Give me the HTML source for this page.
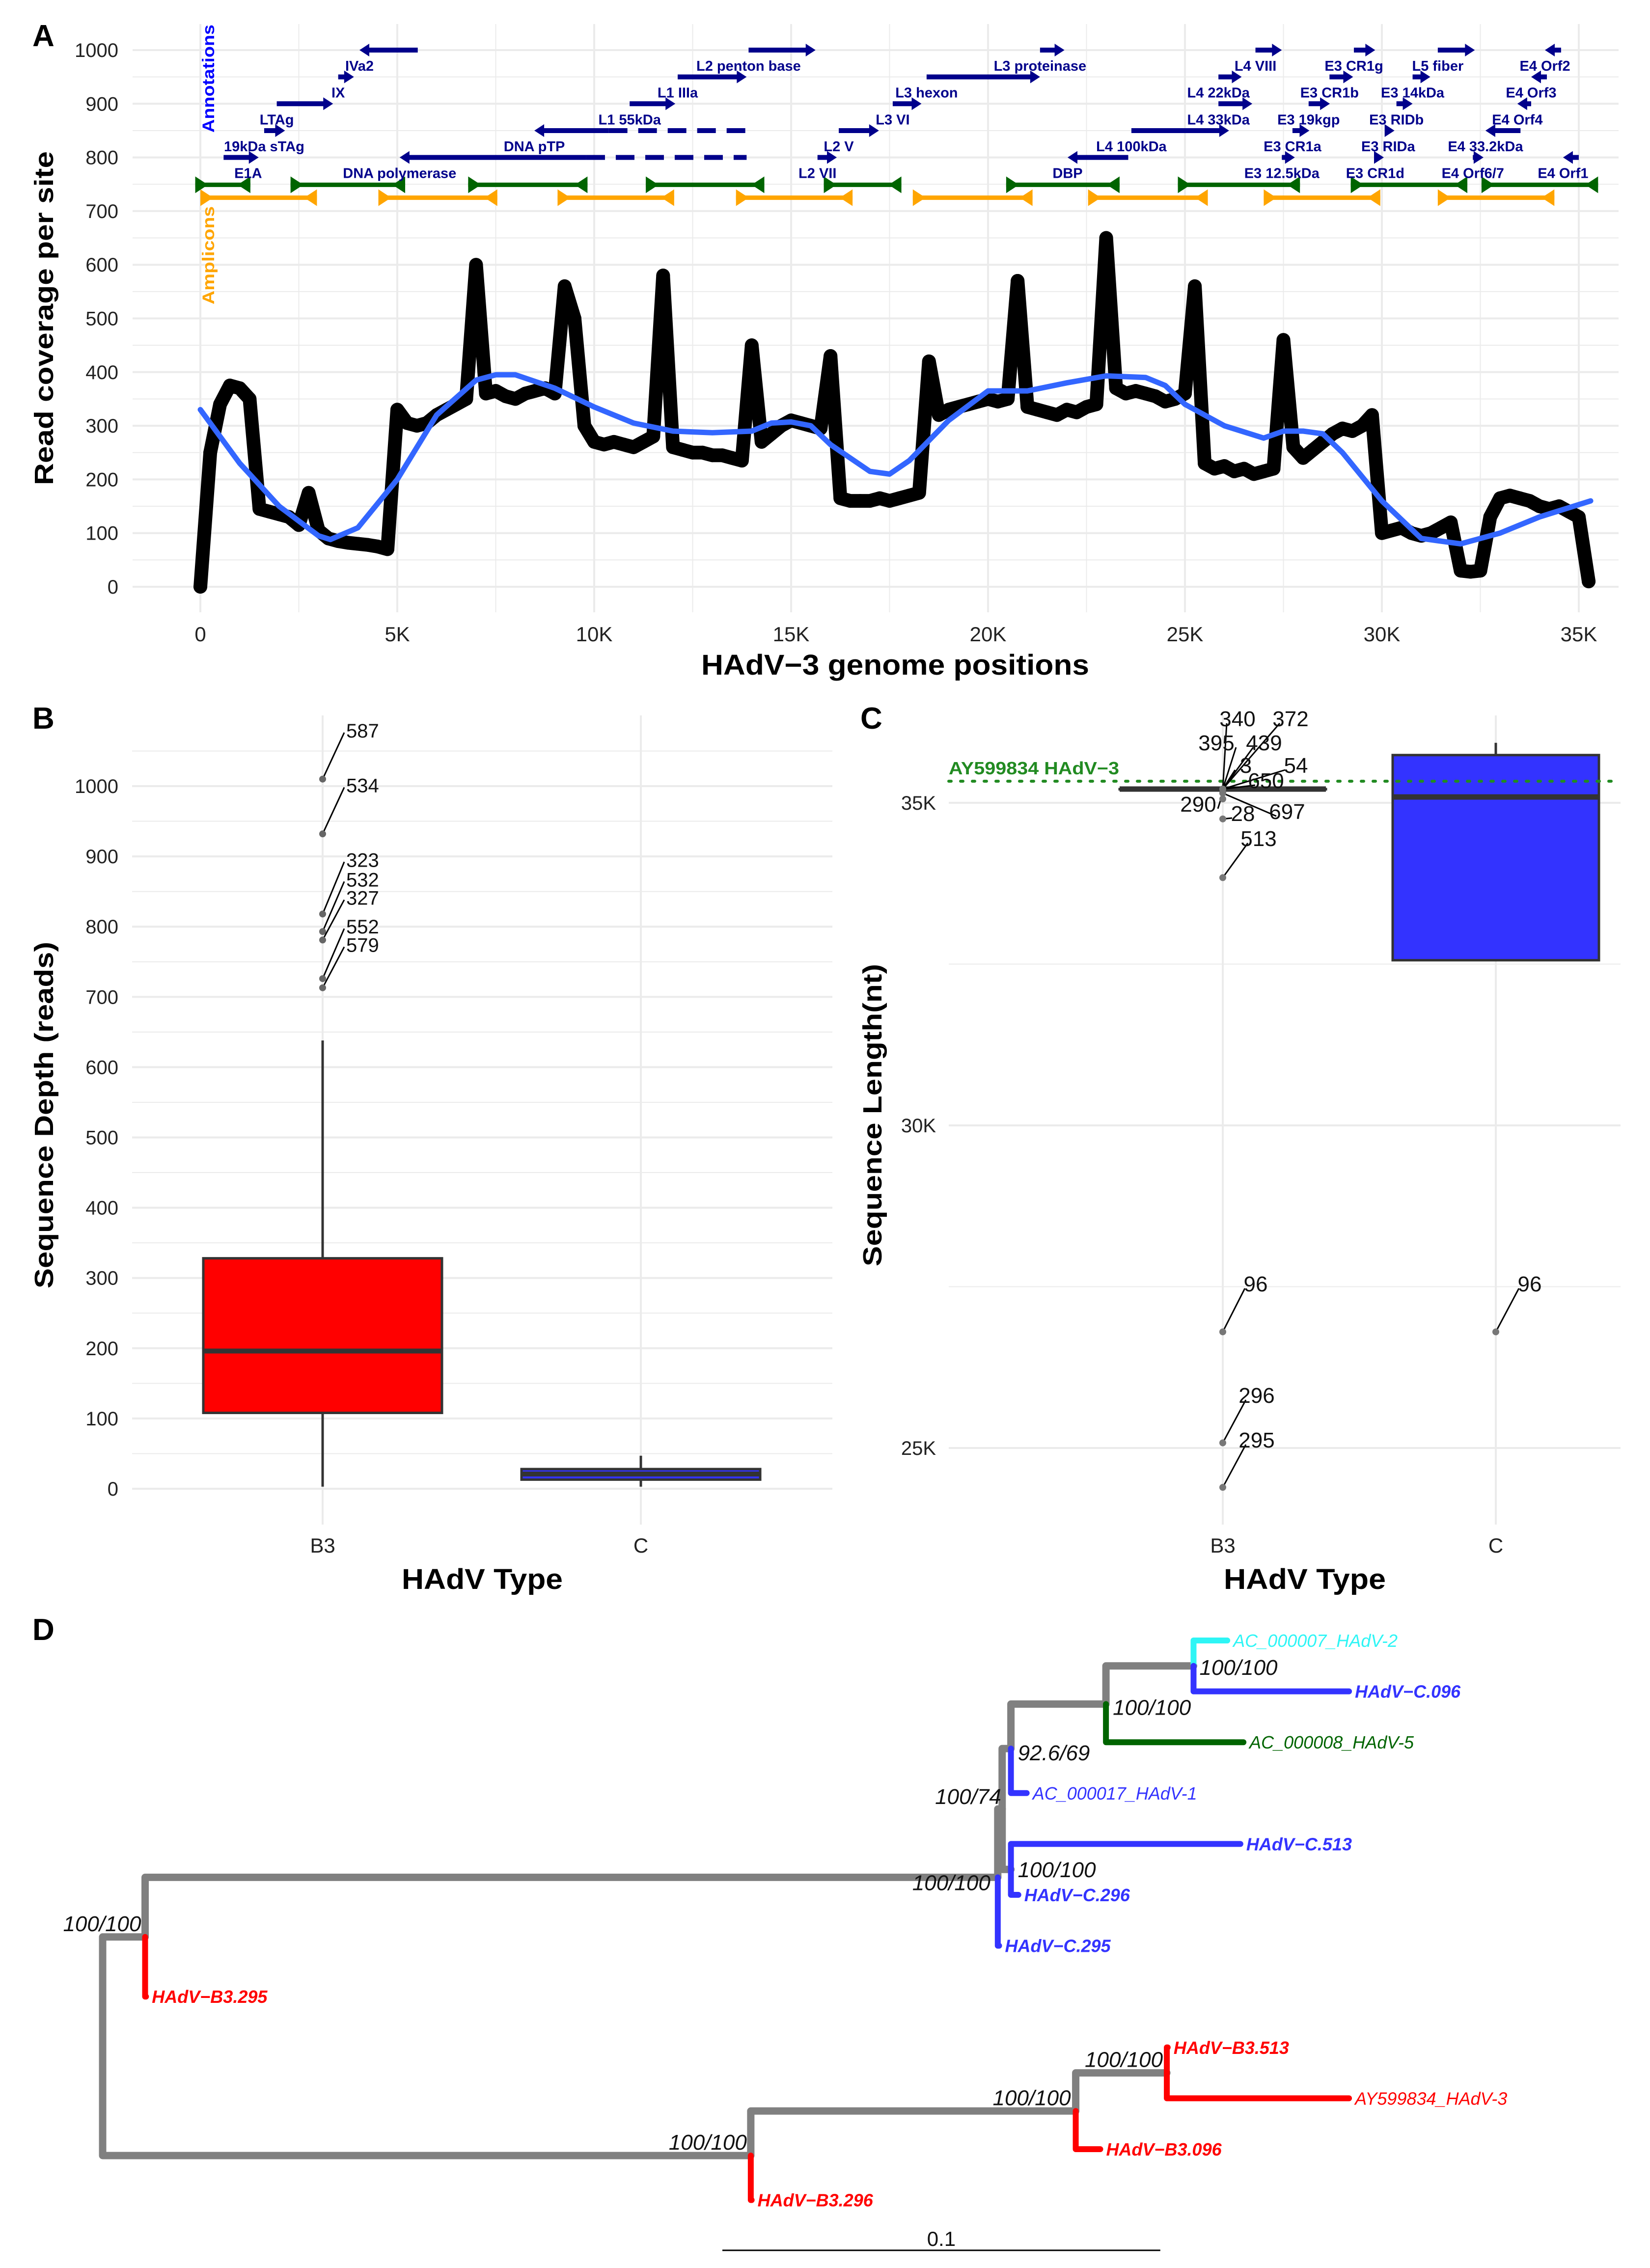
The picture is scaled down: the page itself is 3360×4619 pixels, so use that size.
<!DOCTYPE html>
<html><head><meta charset="utf-8">
<style>
html,body{margin:0;padding:0;background:#fff;}
svg{display:block;font-family:"Liberation Sans",sans-serif;}
</style></head>
<body>
<svg id="fig" xmlns="http://www.w3.org/2000/svg" width="3360" height="4619" viewBox="0 0 3360 4619">
<rect x="0" y="0" width="3360" height="4619" fill="#fff"/>
<g id="gA"></g>
<g id="gB"></g>
<g id="gC"></g>
<g id="gD"></g>
<text x="66" y="94" font-size="62" font-weight="bold">A</text>
<text x="66" y="1484" font-size="62" font-weight="bold">B</text>
<text x="1752" y="1484" font-size="62" font-weight="bold">C</text>
<text x="66" y="3340" font-size="62" font-weight="bold">D</text>
<text transform="translate(108,648) rotate(-90)" text-anchor="middle" font-size="54" font-weight="bold" textLength="680" lengthAdjust="spacingAndGlyphs">Read coverage per site</text>
<text x="1823" y="1374" text-anchor="middle" font-size="58" font-weight="bold" textLength="790" lengthAdjust="spacingAndGlyphs">HAdV−3 genome positions</text>
<text transform="translate(436,160) rotate(-90)" text-anchor="middle" font-size="34" font-weight="bold" fill="#0000FF" textLength="220" lengthAdjust="spacingAndGlyphs">Annotations</text>
<text transform="translate(436,520) rotate(-90)" text-anchor="middle" font-size="34" font-weight="bold" fill="#FFA500" textLength="200" lengthAdjust="spacingAndGlyphs">Amplicons</text>
<text transform="translate(108,2271) rotate(-90)" text-anchor="middle" font-size="54" font-weight="bold" textLength="706" lengthAdjust="spacingAndGlyphs">Sequence Depth (reads)</text>
<text x="982" y="3236" text-anchor="middle" font-size="58" font-weight="bold" textLength="328" lengthAdjust="spacingAndGlyphs">HAdV Type</text>
<text transform="translate(1795,2271) rotate(-90)" text-anchor="middle" font-size="54" font-weight="bold" textLength="616" lengthAdjust="spacingAndGlyphs">Sequence Length(nt)</text>
<text x="2657" y="3236" text-anchor="middle" font-size="58" font-weight="bold" textLength="330" lengthAdjust="spacingAndGlyphs">HAdV Type</text>
<text x="1932" y="1577" font-size="36" font-weight="bold" fill="#228B22" textLength="347" lengthAdjust="spacingAndGlyphs">AY599834 HAdV−3</text>
</svg>
<script>
// ---------- Panel A data ----------
const covStepK = 0.25;
const covValues = [0,250,340,375,370,350,145,140,135,130,115,175,105,90,85,82,80,78,75,70,
330,305,300,305,320,330,340,350,600,360,365,355,350,360,365,370,360,560,500,300,
270,265,270,265,260,270,280,580,260,255,250,250,245,245,240,235,450,270,285,300,
310,305,300,295,430,165,160,160,160,165,160,165,170,175,420,320,330,335,340,345,
350,345,350,570,335,330,325,320,330,325,335,340,650,370,360,365,360,355,345,350,
360,560,230,220,225,215,220,210,215,220,460,260,240,255,270,285,295,290,300,320,
100,105,110,100,95,100,110,120,30,28,30,130,165,170,165,160,150,145,150,140,130,10];
const smoothPosK = [0,1,2,3,3.3,4,5,6,7,7.5,8,9,10,11,12,13,14,14.5,15,15.5,16,17,17.5,18,19,20,21,22,23,24,24.5,25,26,27,27.5,28,28.5,29,30,31,32,33,34,35.3];
const smoothVals = [330,230,150,95,88,110,200,320,385,395,395,370,335,305,290,287,290,305,307,300,265,215,210,235,310,365,365,380,393,390,375,340,300,277,290,290,285,250,160,90,80,100,130,160];
const geneNames = ["IVa2","L2 penton base","L3 proteinase","L4 VIII","E3 CR1g","L5 fiber","E4 Orf2",
"IX","L1 IIIa","L3 hexon","L4 22kDa","E3 CR1b","E3 14kDa","E4 Orf3",
"LTAg","L1 55kDa","L3 VI","L4 33kDa","E3 19kgp","E3 RIDb","E4 Orf4",
"19kDa sTAg","DNA pTP","L2 V","L4 100kDa","E3 CR1a","E3 RIDa","E4 33.2kDa",
"E1A","DNA polymerase","L2 VII","DBP","E3 12.5kDa","E3 CR1d","E4 Orf6/7","E4 Orf1"];
const geneStart = [4.04,13.92,21.32,26.79,29.29,31.42,34.14, 3.50,12.12,18.44,25.85,28.67,30.78,33.79,
1.94,10.90,17.58,25.85,28.14,30.37,33.44, 1.62,8.48,16.21,23.64,27.73,30.16,32.63,
0.59,5.06,15.67,22.02,27.46,29.83,32.31,34.60];
const geneEnd = [5.52,15.62,21.94,27.46,29.83,32.36,34.55, 3.90,13.87,21.32,26.44,29.27,31.23,34.19,
3.37,12.06,18.31,26.71,28.68,30.78,33.79, 2.15,10.37,17.23,26.12,28.16,30.32,33.52,
1.48,9.80,16.16,23.56,27.79,30.05,32.58,35.00];
const geneDashEnd = [0,0,0,0,0,0,0, 0,0,0,0,0,0,0, 0,0,0,0,0,0,0, 0,13.87,0,0,0,0,0, 0,13.87,0,0,0,0,0,0];
const geneRow = [1000,1000,1000,1000,1000,1000,1000, 950,950,950,950,950,950,950, 900,900,900,900,900,900,900, 850,850,850,850,850,850,850, 800,800,800,800,800,800,800,800];
const geneLeft = [1,0,0,0,0,0,1, 0,0,0,0,0,0,1, 0,0,0,0,0,0,1, 0,1,0,0,0,0,1, 0,1,0,1,0,0,0,1];
const ampGreenStart = [-0.13,2.29,6.80,11.31,15.83,20.46,24.82,29.21,32.53];
const ampGreenEnd = [1.27,5.20,9.83,14.32,17.8,23.34,27.92,32.17,35.49];
const ampOrangeStart = [0,4.52,9.07,13.60,18.09,22.54,27.00,31.42];
const ampOrangeEnd = [2.96,7.54,12.03,16.56,21.13,25.58,29.96,34.38];
const ampGreenRow = 749, ampOrangeRow = 725;
const aYTicks = [0,100,200,300,400,500,600,700,800,900,1000];
const aXTicks = [0,5,10,15,20,25,30,35];
const aXTickLabels = ["0","5K","10K","15K","20K","25K","30K","35K"];

// ---------- Panel B data ----------
const depthCats = ["B3","C"];
const depthQ1 = [108,13], depthMed = [196,21], depthQ3 = [328,28], depthWlo = [3,3], depthWhi = [638,47];
const depthOutVals = [1010,932,818,793,781,726,713];
const depthOutLabels = ["587","534","323","532","327","552","579"];
const depthOutLabelAt = [1079,1001,895,867,841,800,774];
const bYTicks = [0,100,200,300,400,500,600,700,800,900,1000];

// ---------- Panel C data ----------
const lenCats = ["B3","C"];
const lenQ1 = [35213,32560], lenMed = [35213,35090], lenQ3 = [35213,35740], lenWhi = [35213,35930];
const lenRef = 35335;
const lenOutCat = [0,0,0,0,0,0,0,0,0,0,0,0,0,0,1,0];
const lenOutVals = [35213,35213,35213,35213,35213,35213,35213,35150,34750,35150,33840,26800,25080,24390,26800,35060];
const lenOutLabels = ["340","372","395","439","3","54","650","290","28","697","513","96","296","295","96",""];
const lenOutLabelAt = [36309,36309,35936,35936,35586,35586,35350,34985,34840,34870,34452,27550,25822,25130,27550,0];
const lenOutLabelDx = [30,138,-13,84,47,149,88,-50,41,131,73,67,69,69,69,0];
const cYTicks = [25000,30000,35000];
const cYTickLabels = ["25K","30K","35K"];

// ---------- Panel D data ----------
const tree = {n:"root",c:[
 {n:"U",b:0.0097,s:"100/100",c:[
   {n:"N1",b:0.1947,s:"100/100",c:[
     {n:"N2",b:0.001,s:"100/74",c:[
       {n:"N3",b:0.002,s:"92.6/69",c:[
         {n:"N5",b:0.0217,s:"100/100",c:[
           {n:"N6",b:0.02,s:"100/100",c:[
             {n:"AC_000007_HAdV-2",b:0.0077,col:"#2EF5F5",bold:0},
             {n:"HAdV−C.096",b:0.0355,col:"#3333FF",bold:1}]},
           {n:"AC_000008_HAdV-5",b:0.0314,col:"#006400",bold:0}]},
         {n:"AC_000017_HAdV-1",b:0.0036,col:"#3333FF",bold:0}]},
       {n:"N4",b:0.002,s:"100/100",c:[
         {n:"HAdV−C.513",b:0.0524,col:"#3333FF",bold:1},
         {n:"HAdV−C.296",b:0.0017,col:"#3333FF",bold:1}]}]},
     {n:"HAdV−C.295",b:0.0003,col:"#3333FF",bold:1}]},
   {n:"HAdV−B3.295",b:0.0002,col:"#FF0000",bold:1}]},
 {n:"L",b:0.148,s:"100/100",c:[
   {n:"N8",b:0.0742,s:"100/100",c:[
     {n:"N9",b:0.0208,s:"100/100",c:[
       {n:"HAdV−B3.513",b:0.0002,col:"#FF0000",bold:1},
       {n:"AY599834_HAdV-3",b:0.0416,col:"#FF0000",bold:0}]},
     {n:"HAdV−B3.096",b:0.0056,col:"#FF0000",bold:1}]},
   {n:"HAdV−B3.296",b:0.0002,col:"#FF0000",bold:1}]}]};
const supportAnchor = {U:"end",N1:"end",N2:"end",N3:"start",N4:"start",N5:"start",N6:"start",L:"end",N8:"end",N9:"end"};
const supportDx = {U:-8,N1:-15,N2:-2,N3:14,N4:14,N5:14,N6:12,L:-8,N8:-10,N9:-8};
const supportDy = {U:-12,N1:26,N2:-10,N3:24,N4:16,N5:22,N6:18,L:-12,N8:-12,N9:-12};

// ---------- drawing ----------
const NS = "http://www.w3.org/2000/svg";
function mk(tag, attrs, parent){
  const e = document.createElementNS(NS, tag);
  for (const k in attrs) e.setAttribute(k, attrs[k]);
  parent.appendChild(e);
  return e;
}
function txt(str, attrs, parent){ const e = mk("text", attrs, parent); e.textContent = str; return e; }

// Panel A
const gA = document.getElementById("gA");
const AX0 = 408, AX1 = 3215, AY0 = 1195, APER = 1.093;
const xA = k => AX0 + k*(AX1-AX0)/35;
const yA = v => AY0 - v*APER;
for (let v=-50; v<=1050; v+=50){
  const y = yA(v); if (y<49||y>1247) continue;
  const ln = mk("line",{x1:270,x2:3296,y1:y,y2:y,stroke:"#ebebeb","stroke-width":v%100===0?4:2},gA);
  
  
}
for (let k=-2.5; k<=37.5; k+=2.5){
  const x = xA(k); if (x<270||x>3296) continue;
  const ln = mk("line",{x1:x,x2:x,y1:49,y2:1247,stroke:"#ebebeb","stroke-width":(k%5===0)?4:2},gA);
  
  
}
aYTicks.forEach(v=>{
  const t = txt(String(v),{x:241,y:yA(v)+14,"text-anchor":"end","font-size":40,fill:"#222"},gA);
  
  
});
aXTicks.forEach((k,i)=>{
  const t = txt(aXTickLabels[i],{x:xA(k),y:1306,"text-anchor":"middle","font-size":42,fill:"#222"},gA);
  
  
});
function ampSeg(s,e,row,col,name){
  const y = yA(row), x1 = xA(s), x2 = xA(e);
  const g = mk("g",{},gA);
  
  
  mk("line",{x1:x1,x2:x2,y1:y,y2:y,stroke:col,"stroke-width":9},g);
  mk("polygon",{points:`${x1},${y-17} ${x1},${y+17} ${x1+26},${y}`,fill:col},g);
  mk("polygon",{points:`${x2},${y-17} ${x2},${y+17} ${x2-26},${y}`,fill:col},g);
}
ampGreenStart.forEach((s,i)=>ampSeg(s,ampGreenEnd[i],ampGreenRow,"#006400","amplicon-green"));
ampOrangeStart.forEach((s,i)=>ampSeg(s,ampOrangeEnd[i],ampOrangeRow,"#FFA500","amplicon-orange"));
geneNames.forEach((nm,i)=>{
  const y = yA(geneRow[i]);
  const x1 = xA(geneStart[i]), x2 = xA(geneEnd[i]);
  const g = mk("g",{},gA);
  
  
  const col = "#00008B";
  if (geneDashEnd[i]) mk("line",{x1:x2,x2:xA(geneDashEnd[i]),y1:y,y2:y,stroke:col,"stroke-width":10,"stroke-dasharray":"38,22"},g);
  if (geneLeft[i]){
    mk("line",{x1:x1+14,x2:x2,y1:y,y2:y,stroke:col,"stroke-width":10},g);
    mk("polygon",{points:`${x1},${y} ${x1+20},${y-13} ${x1+20},${y+13}`,fill:col},g);
  } else {
    mk("line",{x1:x1,x2:x2-14,y1:y,y2:y,stroke:col,"stroke-width":10},g);
    mk("polygon",{points:`${x2},${y} ${x2-20},${y-13} ${x2-20},${y+13}`,fill:col},g);
  }
  const lx = (nm==="E1A") ? x1+50 : x1;
  const t = txt(nm,{x:lx,y:y+42,"text-anchor":"middle","font-size":29,"font-weight":"bold",fill:col},g);
  
  
});
const covPts = covValues.map((v,i)=>`${xA(i*covStepK).toFixed(1)},${yA(v).toFixed(1)}`).join(" ");
const covLine = mk("polyline",{points:covPts,fill:"none",stroke:"#000","stroke-width":28,"stroke-linejoin":"round","stroke-linecap":"round"},gA);


covValues.forEach((v,i)=>{
  const c = mk("circle",{cx:xA(i*covStepK),cy:yA(v),r:14,fill:"#000"},gA);
  
  
});
const smPts = smoothPosK.map((k,i)=>`${xA(k).toFixed(1)},${yA(smoothVals[i]).toFixed(1)}`).join(" ");
const sm = mk("polyline",{points:smPts,fill:"none",stroke:"#3366FF","stroke-width":11,"stroke-linejoin":"round","stroke-linecap":"round"},gA);



// Panel B
const gB = document.getElementById("gB");
const yB = v => 3032 - v*1.431;
const bCatX = [657,1305];
for (let v=0; v<=1050; v+=50){
  const y=yB(v); if (y<1457) continue;
  const ln = mk("line",{x1:269,x2:1695,y1:y,y2:y,stroke:"#ebebeb","stroke-width":v%100===0?4:2},gB);
  
  
}
bCatX.forEach(x=>{
  const ln = mk("line",{x1:x,x2:x,y1:1457,y2:3105,stroke:"#ebebeb","stroke-width":4},gB);
  
  
});
bYTicks.forEach(v=>{
  const t = txt(String(v),{x:241,y:yB(v)+14,"text-anchor":"end","font-size":40,fill:"#222"},gB);
  
  
});
const boxCols = ["#FF0000","#3333FF"];
depthCats.forEach((c,i)=>{
  const x = bCatX[i], hw = 243;
  const g = mk("g",{},gB);
  
  
  mk("line",{x1:x,x2:x,y1:yB(depthWhi[i]),y2:yB(depthWlo[i]),stroke:"#333","stroke-width":5},g);
  mk("rect",{x:x-hw,y:yB(depthQ3[i]),width:2*hw,height:yB(depthQ1[i])-yB(depthQ3[i]),fill:boxCols[i],stroke:"#333","stroke-width":5},g);
  mk("line",{x1:x-hw,x2:x+hw,y1:yB(depthMed[i]),y2:yB(depthMed[i]),stroke:"#333","stroke-width":10},g);
  const t = txt(c,{x:x,y:3162,"text-anchor":"middle","font-size":42,fill:"#222"},gB);
  
  
});
depthOutVals.forEach((v,i)=>{
  const px=bCatX[0], py=yB(v), ly=yB(depthOutLabelAt[i]);
  const ln = mk("line",{x1:px,y1:py,x2:px+44,y2:ly+4,stroke:"#000","stroke-width":3},gB);
  
  
  const c = mk("circle",{cx:px,cy:py,r:7,fill:"#666"},gB);
  
  
  const t = txt(depthOutLabels[i],{x:px+48,y:ly+14,"font-size":40,fill:"#111"},gB);
  
  
});

// Panel C
const gC = document.getElementById("gC");
const yC = v => 1635 - (v-35000)*0.1314;
const cCatX = [2490,3046];
[25000,27500,30000,32500,35000].forEach(v=>{
  const ln = mk("line",{x1:1932,x2:3300,y1:yC(v),y2:yC(v),stroke:"#ebebeb","stroke-width":v%5000===0?4:2},gC);
  
  
});
cCatX.forEach(x=>{
  const ln = mk("line",{x1:x,x2:x,y1:1457,y2:3105,stroke:"#ebebeb","stroke-width":4},gC);
  
  
});
cYTicks.forEach((v,i)=>{
  const t = txt(cYTickLabels[i],{x:1906,y:yC(v)+14,"text-anchor":"end","font-size":40,fill:"#222"},gC);
  
  
});
lenCats.forEach((c,i)=>{
  const x = cCatX[i], hw = 210;
  const g = mk("g",{},gC);
  
  
  mk("line",{x1:x,x2:x,y1:yC(lenWhi[i]),y2:yC(lenQ3[i]),stroke:"#333","stroke-width":5},g);
  mk("rect",{x:x-hw,y:yC(lenQ3[i]),width:2*hw,height:Math.max(0.5,yC(lenQ1[i])-yC(lenQ3[i])),fill:boxCols[i],stroke:"#333","stroke-width":5},g);
  mk("line",{x1:x-hw,x2:x+hw,y1:yC(lenMed[i]),y2:yC(lenMed[i]),stroke:"#333","stroke-width":11},g);
  const t = txt(c,{x:x,y:3162,"text-anchor":"middle","font-size":42,fill:"#222"},gC);
  
  
});
{ const ln = mk("line",{x1:1932,x2:3300,y1:yC(lenRef),y2:yC(lenRef),stroke:"#228B22","stroke-width":6,"stroke-dasharray":"5,19","stroke-linecap":"round"},gC);
  
   }
lenOutVals.forEach((v,i)=>{
  const px=cCatX[lenOutCat[i]], py=yC(v);
  if (lenOutLabels[i]){
    const ly=yC(lenOutLabelAt[i]), dx=lenOutLabelDx[i];
    const ln = mk("line",{x1:px,y1:py,x2:px+dx-(dx<0?-40:22),y2:ly+10,stroke:"#000","stroke-width":3},gC);
    
    
    const t = txt(lenOutLabels[i],{x:px+dx,y:ly+16,"text-anchor":"middle","font-size":44,fill:"#111"},gC);
    
    
  }
  const c = mk("circle",{cx:px,cy:py,r:7,fill:"#777"},gC);
  
  
});

// Panel D
const gD = document.getElementById("gD");
const DX0 = 209, DSC = 8918, DY0 = 3341, DSTEP = 103.6;
let tipIdx = 0;
function layout(node, depth){
  node.d = depth + (node.b||0);
  if (!node.c){ node.y = DY0 + DSTEP*tipIdx; tipIdx++; }
  else { node.c.forEach(ch=>layout(ch,node.d)); node.y = (node.c[0].y + node.c[node.c.length-1].y)/2; }
}
layout(tree,0);
const xD = d => DX0 + d*DSC;
function drawTree(node){
  if (!node.c) return;
  const x = xD(node.d);
  node.c.forEach(ch=>{
    const col = ch.c ? "#808080" : ch.col;
    const w = ch.c ? 15 : 12;
    const br = mk("path",{d:`M${x},${node.y} L${x},${ch.y} L${xD(ch.d)},${ch.y}`,fill:"none",stroke:col,"stroke-width":w,"stroke-linejoin":"round","stroke-linecap":"round"},gD);
    
    
    if (!ch.c){
      const t = txt(ch.n,{x:xD(ch.d)+12,y:ch.y+13,"font-size":36,"font-style":"italic","font-weight":ch.bold?"bold":"normal",fill:ch.col},gD);
      
      
    }
    drawTree(ch);
  });
  if (node.s){
    const t = txt(node.s,{x:x+supportDx[node.n],y:node.y+supportDy[node.n],"text-anchor":supportAnchor[node.n],"font-size":44,"font-style":"italic",fill:"#111"},gD);
    
    
  }
}
drawTree(tree);
{ const sb = mk("line",{x1:1471,x2:1471+0.1*DSC,y1:4583,y2:4583,stroke:"#000","stroke-width":3},gD);
  
  
  const t = txt("0.1",{x:1471+0.05*DSC,y:4574,"text-anchor":"middle","font-size":42,fill:"#111"},gD);
  
   }
</script>
</body></html>
